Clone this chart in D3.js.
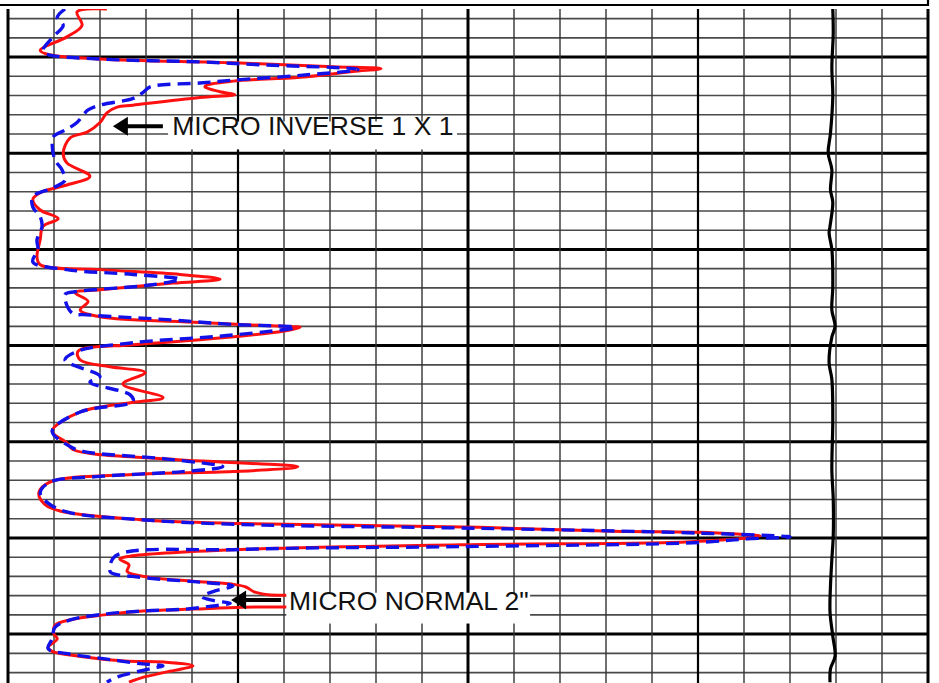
<!DOCTYPE html>
<html>
<head>
<meta charset="utf-8">
<script src="https://cdn.jsdelivr.net/npm/d3@7"></script>
<style>
  html, body { margin: 0; padding: 0; background: #fff; }
  svg { display: block; }
</style>
</head>
<body>
<svg id="log" width="939" height="683"></svg>
<script>
// micro inverse 1x1 (red, solid) - depth ft / reading
const inverseDepth = [
  4505.0, 4505.3, 4506.7, 4507.9, 4509.3, 4509.7, 4510.2, 4510.6, 4511.0, 4511.2,
  4511.5, 4512.1, 4512.5, 4512.9, 4513.1, 4513.6, 4513.9, 4514.2, 4515.0, 4515.2,
  4515.8, 4516.8, 4517.8, 4518.4, 4520.0, 4521.0, 4522.4, 4523.3, 4524.1, 4524.8,
  4525.9, 4526.8, 4527.6, 4529.0, 4530.8, 4531.6, 4532.1, 4532.6, 4533.1, 4533.5,
  4534.2, 4534.5, 4535.4, 4536.3, 4537.0, 4537.6, 4538.0, 4538.1, 4538.5, 4539.4,
  4539.9, 4540.6, 4541.5, 4542.2, 4542.8, 4544.0, 4545.4, 4545.9, 4546.9, 4548.9,
  4550.1, 4550.8, 4551.8, 4552.6, 4553.1, 4553.4, 4554.2, 4555.3, 4556.5, 4557.2,
  4558.1, 4558.5, 4558.9, 4559.3, 4559.4, 4559.6, 4559.8, 4560.4, 4560.7, 4561.2,
  4561.9, 4562.2, 4562.8, 4563.5, 4564.1, 4564.5, 4564.8, 4565.1, 4565.6, 4565.9,
  4566.0, 4566.5, 4567.1, 4567.2, 4567.4, 4567.6, 4568.0, 4568.5, 4569.1, 4570.0,
  4570.5, 4571.4, 4571.8, 4572.3, 4572.8, 4572.9, 4573.3, 4573.9, 4574.5, 4575.0
];
const inverseValue = [
  2.15, 1.50, 1.61, 1.28, 0.70, 0.85, 2.00, 4.89, 7.07, 8.11,
  7.50, 6.35, 4.89, 4.33, 4.28, 4.61, 4.93, 4.17, 2.72, 2.37,
  2.15, 2.00, 1.72, 1.35, 1.20, 1.28, 1.78, 1.28, 0.70, 0.54,
  0.70, 1.09, 0.76, 0.70, 0.63, 0.70, 2.00, 3.74, 4.61, 3.59,
  2.00, 1.46, 1.74, 1.57, 2.00, 4.17, 5.98, 6.35, 5.98, 4.17,
  2.72, 1.52, 1.57, 2.22, 2.98, 2.50, 3.37, 2.72, 1.57, 0.96,
  1.28, 1.41, 3.46, 6.30, 4.89, 2.72, 0.91, 0.67, 0.80, 1.13,
  2.87, 5.04, 10.26, 13.15, 15.04, 15.85, 16.35, 14.83, 9.83, 5.04,
  2.65, 2.43, 2.63, 2.59, 3.09, 4.02, 4.87, 5.17, 5.35, 5.65,
  6.35, 7.00, 6.35, 5.11, 4.02, 2.93, 2.09, 1.37, 1.02, 1.00,
  1.07, 0.87, 0.96, 1.54, 2.54, 3.39, 4.02, 3.48, 2.93, 2.63
];

// micro normal 2" (blue, dashed)
const normalDepth = [
  4505.0, 4505.9, 4506.7, 4507.9, 4509.3, 4509.7, 4510.2, 4510.5, 4510.8, 4511.3,
  4511.9, 4512.4, 4512.7, 4513.1, 4513.7, 4514.3, 4515.0, 4515.5, 4516.8, 4517.5,
  4518.3, 4519.1, 4520.7, 4521.7, 4522.8, 4523.6, 4524.5, 4525.6, 4526.6, 4527.6,
  4529.0, 4530.0, 4531.3, 4532.1, 4532.6, 4533.1, 4533.7, 4534.4, 4534.7, 4536.6,
  4536.8, 4537.3, 4537.8, 4538.1, 4538.9, 4539.7, 4540.6, 4541.5, 4543.2, 4543.8,
  4545.1, 4545.8, 4546.9, 4548.9, 4550.5, 4551.0, 4551.8, 4552.6, 4553.1, 4553.6,
  4554.2, 4555.3, 4556.3, 4557.3, 4558.1, 4558.6, 4559.0, 4559.5, 4559.9, 4560.1,
  4560.5, 4560.9, 4561.2, 4561.9, 4563.5, 4563.8, 4564.0, 4564.3, 4564.6, 4565.0,
  4565.5, 4566.1, 4566.5, 4566.8, 4567.1, 4567.4, 4567.6, 4567.9, 4568.5, 4569.3,
  4570.5, 4571.5, 4572.1, 4572.6, 4573.1, 4573.3, 4573.6, 4574.5, 4575.0
];
const normalValue = [
  1.24, 1.07, 1.20, 0.98, 0.76, 0.85, 2.00, 4.17, 5.48, 7.61,
  6.35, 4.89, 4.17, 3.09, 2.93, 2.72, 2.00, 1.74, 1.50, 1.28,
  0.98, 0.96, 1.02, 1.17, 1.24, 0.98, 0.54, 0.54, 0.70, 0.74,
  0.63, 0.65, 0.54, 1.28, 2.72, 3.74, 3.09, 1.46, 1.24, 1.39,
  1.72, 3.46, 4.89, 6.24, 4.89, 2.72, 1.50, 1.24, 2.00, 1.78,
  2.65, 2.72, 1.57, 0.96, 1.35, 1.63, 3.46, 4.67, 3.80, 2.00,
  0.91, 0.70, 0.85, 1.28, 2.87, 5.04, 10.26, 15.04, 17.00, 16.07,
  14.89, 9.83, 5.04, 2.33, 2.22, 2.35, 2.70, 3.33, 4.17, 4.89,
  4.50, 4.22, 4.46, 4.83, 4.41, 3.87, 2.93, 2.15, 1.37, 1.02,
  0.96, 0.87, 1.37, 2.15, 2.93, 3.37, 3.09, 2.35, 2.15
];

// caliper-like trace in the right track (black)
const caliperDepth = [
  4505.0, 4507.5, 4511.0, 4514.1, 4517.9, 4520.0, 4521.7, 4523.8, 4525.1, 4527.6,
  4528.3, 4530.0, 4533.9, 4536.3, 4538.0, 4539.1, 4541.8, 4543.5, 4547.7, 4552.9,
  4556.0, 4559.8, 4562.2, 4565.0, 4567.7, 4570.2, 4572.3, 4573.6, 4575.0
];
const caliperValue = [
  17.93, 17.94, 17.91, 17.93, 17.88, 17.83, 17.91, 17.88, 17.93, 17.87,
  17.85, 17.91, 17.93, 17.91, 17.98, 17.91, 17.85, 17.91, 17.93, 17.91,
  17.94, 17.94, 17.91, 17.88, 17.87, 17.93, 17.98, 17.88, 17.87
];

const valueTicks = d3.range(0, 21, 1);
const depthTicks = d3.range(4506, 4575, 2);
const curveNames = ["MICRO INVERSE 1 X 1", "MICRO NORMAL 2\""];

const svg = d3.select("#log");
const trackLeft = 8, trackRight = 928, trackTop = 9, trackBottom = 683;

const x = d3.scaleLinear().domain([0, 20]).range([trackLeft, trackRight]);
const y = d3.scaleLinear().domain([4505, 4575]).range([trackTop, 682.2]);

// header box edge
svg.append("line")
  .attr("x1", 0).attr("x2", trackRight + 1).attr("y1", 5).attr("y2", 5)
  .attr("stroke", "#000").attr("stroke-width", 2.2);
svg.append("line")
  .attr("x1", trackRight).attr("x2", trackRight).attr("y1", 0).attr("y2", 6)
  .attr("stroke", "#000").attr("stroke-width", 2.2);

// grid
const grid = svg.append("g");
grid.selectAll("line.h")
  .data(depthTicks)
  .enter().append("line")
  .attr("x1", trackLeft).attr("x2", trackRight)
  .attr("y1", d => y(d)).attr("y2", d => y(d))
  .attr("stroke", d => d % 10 === 0 ? "#000" : "#4a4a4a")
  .attr("stroke-width", d => d % 10 === 0 ? 3 : 1.6);

grid.selectAll("line.v")
  .data(valueTicks)
  .enter().append("line")
  .attr("x1", d => x(d)).attr("x2", d => x(d))
  .attr("y1", trackTop).attr("y2", trackBottom)
  .attr("stroke", d => d % 5 === 0 ? "#000" : "#333")
  .attr("stroke-width", d => (d === 0 || d === 10 || d === 20) ? 3 : d % 5 === 0 ? 2.2 : 1.4);

// curves
svg.append("clipPath").attr("id", "track")
  .append("rect").attr("x", trackLeft).attr("y", trackTop)
  .attr("width", trackRight - trackLeft).attr("height", trackBottom - trackTop);

const line = d3.line()
  .x(d => x(d.v))
  .y(d => y(d.d))
  .curve(d3.curveCatmullRom.alpha(0.5));

const pairs = (depths, vals) => depths.map((d, i) => ({ d, v: vals[i] }));

const curves = svg.append("g").attr("clip-path", "url(#track)");

curves.append("path")
  .datum(pairs(caliperDepth, caliperValue))
  .attr("fill", "none")
  .attr("stroke", "#000")
  .attr("stroke-width", 3.2)
  .attr("d", line);

curves.append("path")
  .datum(pairs(inverseDepth, inverseValue))
  .attr("fill", "none")
  .attr("stroke", "#ff1010")
  .attr("stroke-width", 3)
  .attr("stroke-linejoin", "round")
  .attr("d", line);

curves.append("path")
  .datum(pairs(normalDepth, normalValue))
  .attr("fill", "none")
  .attr("stroke", "#1212e8")
  .attr("stroke-width", 3.4)
  .attr("stroke-dasharray", "13,7")
  .attr("d", line);

// annotations: label box, text and arrow pointing at the curve
const notes = [
  { name: curveNames[0], tipV: 2.28, tipD: 4517.2, textV: 3.57, textD: 4518.1, boxV: [3.48, 9.76], boxD: [4516.7, 4519.6] },
  { name: curveNames[1], tipV: 4.85, tipD: 4566.45, textV: 6.11, textD: 4567.5, boxV: [6.05, 11.35], boxD: [4565.7, 4568.9] }
];

notes.forEach(n => {
  svg.append("rect")
    .attr("x", x(n.boxV[0])).attr("y", y(n.boxD[0]))
    .attr("width", x(n.boxV[1]) - x(n.boxV[0]))
    .attr("height", y(n.boxD[1]) - y(n.boxD[0]))
    .attr("fill", "#fff");

  svg.append("text")
    .attr("x", x(n.textV)).attr("y", y(n.textD))
    .attr("font-family", "'Liberation Sans', Arial, sans-serif")
    .attr("font-size", 26.5)
    .attr("fill", "#111")
    .text(n.name);

  const tx = x(n.tipV), ty = y(n.tipD);
  svg.append("path")
    .attr("d", `M${tx},${ty} L${tx + 15},${ty - 9.5} L${tx + 15},${ty - 2} L${tx + 50},${ty - 2}
                L${tx + 50},${ty + 2} L${tx + 15},${ty + 2} L${tx + 15},${ty + 9.5} Z`)
    .attr("fill", "#000");
});
</script>
</body>
</html>
